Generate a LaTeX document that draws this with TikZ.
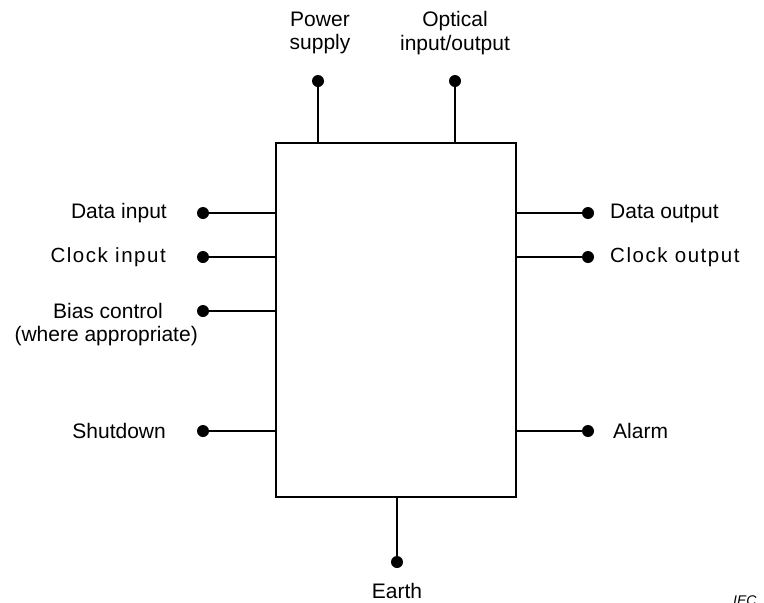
\documentclass[tikz,border=0pt]{standalone}
\usepackage{fontspec}
\setmainfont{Liberation Sans}
\begin{document}
\begin{tikzpicture}[x=1pt,y=-1pt,
  wire/.style={line width=1.6pt},
  pin/.style={circle,fill=black,inner sep=0pt,minimum size=12pt},
  lbl/.style={font=\fontsize{21}{23.5}\selectfont,inner sep=0pt},
  spaced/.style={font=\fontsize{20.5}{23.5}\selectfont\addfontfeature{LetterSpace=7.5}},
  blk/.style={draw,line width=1.6pt,inner sep=0pt}]
\useasboundingbox (0,0) rectangle (764,603);
\node[blk,minimum width=240pt,minimum height=354pt] (box) at (396,320) {};
% top pins
\node[pin] (ps) at (318,81) {};
\node[pin] (oio) at (455,81) {};
\draw[wire] (ps) -- (ps |- box.north);
\draw[wire] (oio) -- (oio |- box.north);
\node[lbl,align=center] (psl) at (320,33) {Power\\supply};
\node[lbl,align=center] (oiol) at (455,33) {Optical\\input/output};
% left pins
\node[pin] (di) at (203,213) {};
\node[pin] (ci) at (203,257) {};
\node[pin] (bc) at (203,311) {};
\node[pin] (sd) at (203,431) {};
\foreach \p in {di,ci,bc,sd} \draw[wire] (\p) -- (\p -| box.west);
\node[lbl,anchor=east] (dil) at (167,213) {Data input};
\node[lbl,spaced,anchor=east] (cil) at (166,257) {Clock input};
\node[lbl,anchor=east] (bcl) at (163,311) {Bias control};
\node[lbl,anchor=east] (bcl2) at (198,336) {(where appropriate)};
\node[lbl,anchor=east] (sdl) at (166,431) {Shutdown};
% right pins
\node[pin] (do) at (588,213) {};
\node[pin] (co) at (588,257) {};
\node[pin] (al) at (588,431) {};
\foreach \p in {do,co,al} \draw[wire] (\p) -- (\p -| box.east);
\node[lbl,anchor=west] (dol) at (610,213) {Data output};
\node[lbl,spaced,anchor=west] (col) at (610,257) {Clock output};
\node[lbl,anchor=west] (all) at (613,431) {Alarm};
% bottom pin
\node[pin] (ea) at (397,562) {};
\draw[wire] (ea) -- (ea |- box.south);
\node[lbl] (eal) at (397,591) {Earth};
\node[font=\fontsize{14}{16}\selectfont\itshape,inner sep=0pt,anchor=west] (iec) at (733,601) {IEC};
\end{tikzpicture}
\end{document}
